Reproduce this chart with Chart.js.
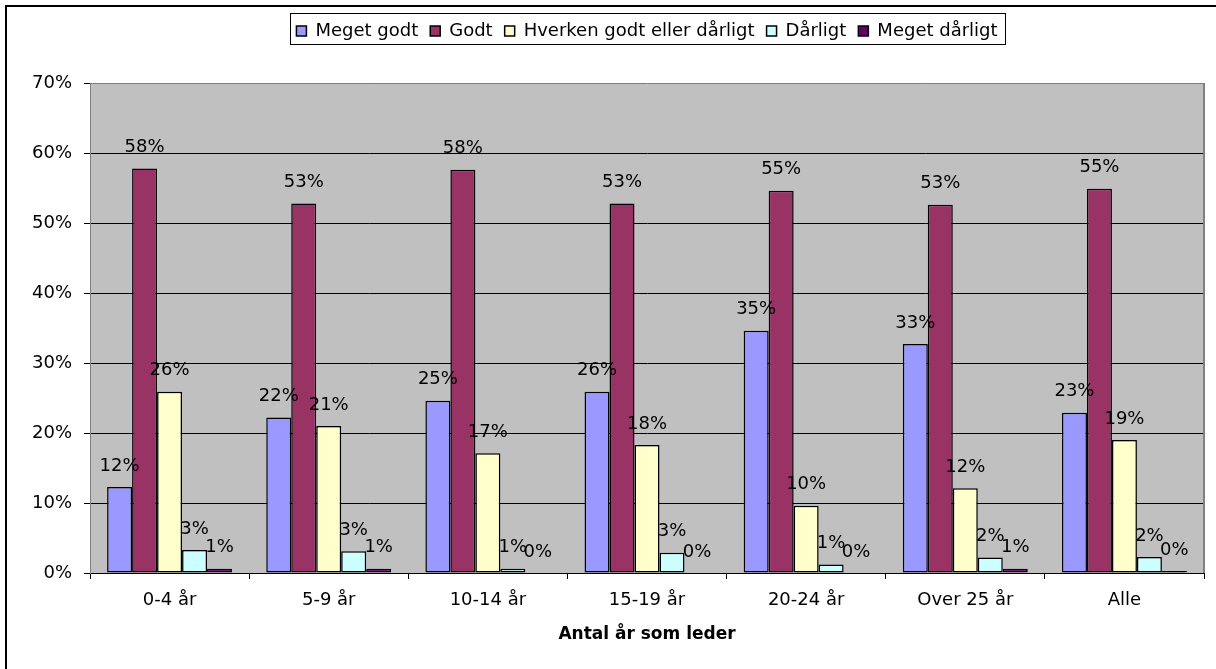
<!DOCTYPE html>
<html>
<head>
<meta charset="utf-8">
<script src="https://cdn.jsdelivr.net/npm/chart.js@4.4.0/dist/chart.umd.min.js"></script>
<style>
  html, body { margin: 0; padding: 0; background: #fff; }
</style>
</head>
<body>
<canvas id="barChart" width="1216" height="669"></canvas>
<script>
// data (percent)
var categories = ["0-4 år", "5-9 år", "10-14 år", "15-19 år", "20-24 år", "Over 25 år", "Alle"];
var seriesNames = ["Meget godt", "Godt", "Hverken godt eller dårligt", "Dårligt", "Meget dårligt"];
var megetGodt = [12.3, 22.2, 24.6, 25.9, 34.6, 32.7, 22.9];
var godt = [57.8, 52.8, 57.6, 52.8, 54.6, 52.6, 54.9];
var hverken = [25.9, 21.0, 17.1, 18.3, 9.6, 12.1, 19.0];
var darligt = [3.3, 3.1, 0.6, 2.9, 1.2, 2.2, 2.3];
var megetDarligt = [0.6, 0.6, 0.0, 0.0, 0.0, 0.6, 0.3];
var yTicks = [0, 10, 20, 30, 40, 50, 60, 70];
var xTitle = "Antal år som leder";

var colors = ["#9999FF", "#993366", "#FFFFCC", "#CCFFFF", "#660066"];
var FONT = "DejaVu Sans";

Chart.defaults.color = "#000";
Chart.defaults.font.family = FONT;
Chart.defaults.font.size = 18;

// background, outer frame and plot area
var frame = {
  id: "frame",
  beforeDraw: function (chart) {
    var ctx = chart.ctx, a = chart.chartArea;
    ctx.save();
    ctx.fillStyle = "#fff";
    ctx.fillRect(0, 0, chart.width, chart.height);
    ctx.fillStyle = "#C0C0C0";
    ctx.fillRect(a.left, a.top, a.right - a.left, a.bottom - a.top);
    ctx.strokeStyle = "#000";
    ctx.lineWidth = 2;
    ctx.strokeRect(6, 6, chart.width + 20, chart.height + 20);
    ctx.restore();
  },
  afterDraw: function (chart) {
    var ctx = chart.ctx, a = chart.chartArea;
    ctx.save();
    ctx.strokeStyle = "#808080";
    ctx.lineWidth = 2;
    ctx.beginPath();
    ctx.moveTo(a.right, a.top);
    ctx.lineTo(a.right, a.bottom);
    ctx.stroke();
    // box round the legend
    var boxes = chart.legend.legendHitBoxes;
    if (boxes && boxes.length) {
      var last = boxes[boxes.length - 1];
      var l = boxes[0].left - 6, r = last.left + last.width + 8;
      ctx.strokeStyle = "#000";
      ctx.lineWidth = 1;
      ctx.strokeRect(Math.round(l) + 0.5, 13.5, Math.round(r - l), 31);
    }
    ctx.restore();
  }
};

// fixed legend height so the plot starts where the reference does
var legendHeight = {
  id: "legendHeight",
  beforeInit: function (chart) {
    var fit = chart.legend.fit;
    chart.legend.fit = function () {
      fit.bind(chart.legend)();
      this.height = 73;
    };
  }
};

// value labels above the bars
var barLabels = {
  id: "barLabels",
  afterDatasetsDraw: function (chart) {
    var ctx = chart.ctx;
    ctx.save();
    ctx.font = "18px '" + FONT + "'";
    ctx.fillStyle = "#000";
    ctx.textAlign = "center";
    ctx.textBaseline = "middle";
    chart.data.datasets.forEach(function (ds, i) {
      chart.getDatasetMeta(i).data.forEach(function (bar, j) {
        ctx.fillText(Math.round(ds.data[j]) + "%", bar.x, bar.y - 21);
      });
    });
    ctx.restore();
  }
};

var allSeries = [megetGodt, godt, hverken, darligt, megetDarligt];
var datasets = allSeries.map(function (vals, i) {
  return {
    label: seriesNames[i],
    data: vals,
    backgroundColor: colors[i],
    borderColor: "#000",
    borderWidth: 1.5,
    borderSkipped: false,
    categoryPercentage: 0.785,
    barPercentage: 1
  };
});

var ctx = document.getElementById("barChart").getContext("2d");
var barChart = new Chart(ctx, {
  type: "bar",
  data: { labels: categories, datasets: datasets },
  plugins: [frame, legendHeight, barLabels],
  options: {
    responsive: false,
    animation: false,
    layout: { padding: { top: 10, right: 12, bottom: 0, left: 0 } },
    plugins: {
      tooltip: { enabled: false },
      legend: {
        position: "top",
        fullSize: false,
        labels: { boxWidth: 10, boxHeight: 10, padding: 12, font: { size: 18 } }
      }
    },
    scales: {
      x: {
        afterFit: function (scale) { scale.height = 96; },
        grid: { display: true, drawOnChartArea: false, drawTicks: true, tickLength: 6, color: "#000", offset: true },
        border: { color: "#000", width: 1 },
        ticks: { padding: 11, font: { size: 18 } },
        title: { display: true, text: xTitle, font: { size: 17, weight: "bold" }, padding: { top: 0, bottom: 24 } }
      },
      y: {
        min: 0,
        max: 70,
        afterFit: function (scale) { scale.width = 90; },
        afterBuildTicks: function (scale) {
          scale.ticks = yTicks.map(function (v) { return { value: v }; });
        },
        grid: {
          color: function (c) { return c.tick && c.tick.value === 70 ? "#808080" : "#000"; },
          tickColor: "#000",
          tickLength: 6
        },
        border: { color: "#808080", width: 1 },
        ticks: {
          padding: 12,
          font: { size: 18 },
          callback: function (v) { return v + "%"; }
        }
      }
    }
  }
});
</script>
</body>
</html>
